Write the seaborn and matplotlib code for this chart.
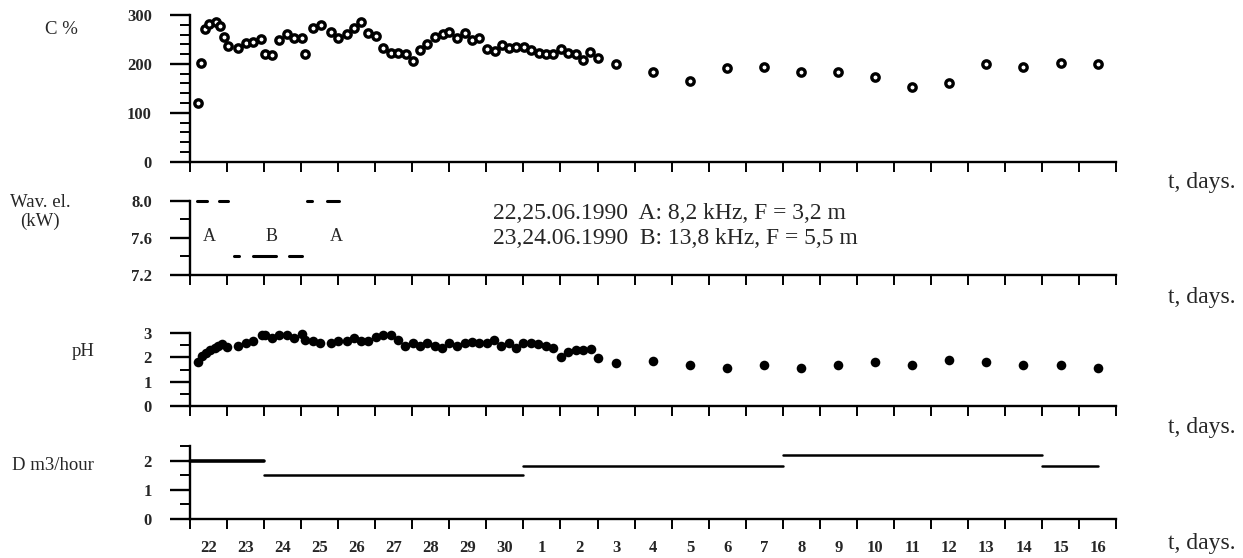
import numpy as np
import pandas as pd
import seaborn as sns
import matplotlib
matplotlib.use("Agg")
import matplotlib.pyplot as plt

sns.set_style("ticks")
plt.rcParams["font.family"] = ["Liberation Serif", "DejaVu Serif"]

# ---------------- data (x in days since 22.06 00:00) ----------------
c_days = [0.21, 0.30, 0.40, 0.52, 0.70, 0.81, 0.92, 1.02, 1.30, 1.51, 1.71, 1.91,
          2.01, 2.22, 2.41, 2.61, 2.81, 3.02, 3.10, 3.31, 3.53, 3.81, 4.00, 4.23,
          4.43, 4.62, 4.81, 5.02, 5.22, 5.42, 5.62, 5.82, 6.02, 6.21, 6.41, 6.61,
          6.82, 6.99, 7.22, 7.41, 7.61, 7.80, 8.01, 8.22, 8.42, 8.61, 8.81, 9.02,
          9.21, 9.41, 9.60, 9.81, 10.01, 10.20, 10.41, 10.61, 10.81, 11.02,
          11.5, 12.5, 13.5, 14.5, 15.5, 16.5, 17.5, 18.5, 19.5, 20.5, 21.5, 22.5,
          23.5, 24.5]
c_values = [121, 202, 272, 282, 285, 277, 255, 236, 232, 242, 244, 250,
            221, 219, 248, 261, 252, 252, 221, 273, 280, 265, 252, 261,
            274, 286, 263, 257, 232, 223, 223, 221, 205, 229, 240, 256,
            261, 265, 252, 263, 249, 252, 230, 227, 238, 233, 235, 235,
            228, 223, 221, 221, 230, 222, 221, 209, 225, 212,
            199, 184, 165, 192, 194, 184, 183, 173, 152, 160, 200, 193,
            202, 199]

ph_days = [0.21, 0.32, 0.42, 0.54, 0.66, 0.76, 0.87, 0.99, 1.30, 1.51, 1.71, 1.94,
           2.02, 2.21, 2.41, 2.61, 2.81, 3.02, 3.10, 3.31, 3.51, 3.80, 4.00, 4.23,
           4.43, 4.62, 4.81, 5.02, 5.22, 5.42, 5.61, 5.80, 6.01, 6.21, 6.41, 6.60,
           6.81, 7.00, 7.20, 7.41, 7.61, 7.80, 8.01, 8.21, 8.40, 8.60, 8.81, 9.00,
           9.21, 9.40, 9.60, 9.81, 10.01, 10.20, 10.41, 10.61, 10.82, 11.02,
           11.5, 12.5, 13.5, 14.5, 15.5, 16.5, 17.5, 18.5, 19.5, 20.5, 21.5, 22.5,
           23.5, 24.5]
ph_values = [1.80, 2.05, 2.18, 2.30, 2.38, 2.46, 2.53, 2.42, 2.47, 2.58, 2.69, 2.92,
             2.92, 2.78, 2.92, 2.92, 2.78, 2.95, 2.70, 2.67, 2.58, 2.58, 2.67, 2.69,
             2.81, 2.67, 2.67, 2.85, 2.92, 2.92, 2.71, 2.48, 2.60, 2.48, 2.60, 2.48,
             2.37, 2.60, 2.48, 2.60, 2.64, 2.60, 2.60, 2.71, 2.48, 2.60, 2.37, 2.60,
             2.60, 2.53, 2.48, 2.37, 2.03, 2.21, 2.30, 2.30, 2.33, 1.99,
             1.78, 1.85, 1.68, 1.58, 1.68, 1.58, 1.68, 1.80, 1.68, 1.89, 1.80, 1.68,
             1.68, 1.58]

# wave electrode power segments
wav_start = [0.19, 0.78, 3.16, 3.70, 1.19, 1.70, 2.67]
wav_end = [0.46, 1.03, 3.29, 4.02, 1.32, 2.32, 3.02]
wav_level = [8.0, 8.0, 8.0, 8.0, 7.4, 7.4, 7.4]

# discharge D segments
d_start = [0, 2, 9, 16, 23]
d_end = [2, 9, 16, 23, 24.5]
d_level = [2.0, 1.5, 1.8, 2.2, 1.8]

day_labels = ["22", "23", "24", "25", "26", "27", "28", "29", "30",
              "1", "2", "3", "4", "5", "6", "7", "8", "9", "10", "11",
              "12", "13", "14", "15", "16"]

c_df = pd.DataFrame({"t": c_days, "C": c_values})
ph_df = pd.DataFrame({"t": ph_days, "pH": ph_values})

# ---------------- figure ----------------
fig = plt.figure(figsize=(12.43, 5.58), dpi=100)
L, W = 0.1529, 0.745
ax1 = fig.add_axes([L, 0.7102, W, 0.2629])
ax2 = fig.add_axes([L, 0.5072, W, 0.1326])
ax3 = fig.add_axes([L, 0.2724, W, 0.1308])
ax4 = fig.add_axes([L, 0.0699, W, 0.1308])

tick_font = dict(family=["Liberation Serif", "DejaVu Serif"], weight="bold", size=12)


def style(ax, ylim, major, major_labels, minor):
    ax.set_xlim(0, 25)
    ax.set_ylim(*ylim)
    ax.set_facecolor("white")
    ax.grid(False)
    for s in ["top", "right"]:
        ax.spines[s].set_visible(False)
    for s in ["left", "bottom"]:
        ax.spines[s].set_linewidth(1.7)
        ax.spines[s].set_color("black")
    ax.set_xticks(range(26))
    ax.set_xticklabels([])
    ax.tick_params(axis="x", which="major", direction="out", length=7.5,
                   width=1.4, color="black")
    ax.set_yticks(major)
    ax.set_yticklabels(major_labels, fontdict=tick_font)
    ax.set_yticks(minor, minor=True)
    ax.tick_params(axis="y", which="major", direction="out", length=14.4,
                   width=1.7, pad=13, color="black")
    ax.tick_params(axis="y", which="minor", direction="out", length=7.2,
                   width=1.4, color="black")
    ax.set_xlabel("")
    ax.set_ylabel("")


# Panel 1: C %
sns.scatterplot(data=c_df, x="t", y="C", ax=ax1, marker="o", s=28,
                color="white", edgecolor="black", linewidth=2.4,
                clip_on=False, zorder=3, legend=False)
style(ax1, (0, 300), [0, 100, 200, 300], ["0", "100", "200", "300"],
      list(range(20, 300, 20)))

# Panel 2: wave electrode
for x0, x1, lv in zip(wav_start, wav_end, wav_level):
    sns.lineplot(x=[x0, x1], y=[lv, lv], ax=ax2, color="black", linewidth=2.2,
                 clip_on=False)
style(ax2, (7.2, 8.0), [7.2, 7.6, 8.0], ["7.2", "7.6", "8.0"], [7.4, 7.8])
for lab, xx in zip(["A", "B", "A"], [0.51, 2.21, 3.94]):
    ax2.text(xx, 7.62, lab, ha="center", va="center", fontsize=13)
ax2.text(8.18, 7.87, "22,25.06.1990  A: 8,2 kHz, F = 3,2 m",
         ha="left", va="center", fontsize=17)
ax2.text(8.18, 7.59, "23,24.06.1990  B: 13,8 kHz, F = 5,5 m",
         ha="left", va="center", fontsize=17)

# Panel 3: pH
sns.scatterplot(data=ph_df, x="t", y="pH", ax=ax3, marker="o", s=48,
                color="black", edgecolor="black", linewidth=0,
                clip_on=False, zorder=3, legend=False)
style(ax3, (0, 3), [0, 1, 2, 3], ["0", "1", "2", "3"], [0.5, 1.5, 2.5])

# Panel 4: D
for i, (x0, x1, lv) in enumerate(zip(d_start, d_end, d_level)):
    sns.lineplot(x=[x0, x1], y=[lv, lv], ax=ax4, color="black",
                 linewidth=2.6 if i == 0 else 1.8, clip_on=False)
style(ax4, (0, 2.5), [0, 1, 2], ["0", "1", "2"], [0.5, 1.5, 2.5])
ax4.set_xticks(np.arange(25) + 0.5, minor=True)
ax4.set_xticklabels(day_labels, minor=True, fontdict=tick_font)
ax4.tick_params(axis="x", which="minor", length=0, pad=15)

# y labels and "t, days."
FW, FH = 1243, 558
ylab = [("C %", 61, 30), ("Wav. el.\n(kW)", 40, 212), ("pH", 83, 352),
        ("D m3/hour", 53, 465)]
for txt, px, py in ylab:
    fig.text(px / FW, 1 - py / FH, txt, ha="center", va="center", fontsize=13.5,
             linespacing=1.15)
for py in [183, 298, 428, 543]:
    fig.text(1168 / FW, 1 - py / FH, "t, days.", ha="left", va="center",
             fontsize=17)

fig.savefig("out.png", dpi=100, facecolor="white")
